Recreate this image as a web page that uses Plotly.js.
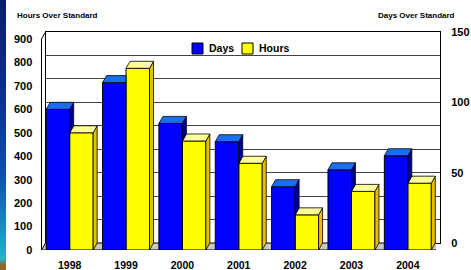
<!DOCTYPE html>
<html><head><meta charset="utf-8">
<script src="https://cdn.plot.ly/plotly-3.0.1.min.js"></script>
<style>
html,body{margin:0;padding:0;background:#fff;overflow:hidden;}
#wrap{position:relative;width:471px;height:270px;}
#chart{width:471px;height:270px;}
#strip{position:absolute;left:0;top:0;width:6px;height:270px;pointer-events:none;
background:linear-gradient(180deg,#0a1e6c 0%,#0c2f90 35%,#0f4fb0 65%,#1c8ec4 85%,#2ab0c8 96%,#8a6a30 98%,#8a6a30 100%);}
</style>
</head><body>
<div id="wrap"><div id="chart"></div><div id="strip"></div></div>
<script>
// ---- data ----
const years = ['1998','1999','2000','2001','2002','2003','2004'];
const daysOver = [100, 119, 90, 77, 45, 57, 67];
const hoursOver = [500, 775, 465, 370, 150, 250, 285];
const hoursTicks = [0,100,200,300,400,500,600,700,800,900];
const daysTicks = [0,50,100,150];
const seriesNames = ['Days','Hours'];
const leftTitle = 'Hours Over Standard';
const rightTitle = 'Days Over Standard';

// ---- geometry / style ----
const W = 471, H = 270;
const L = 41.5, R = 436, B = 250, T = 39;   // front plane (px)
const dxp = 4, dyp = 7;                     // 3-D depth offset (px)
const hoursMax = 900, daysMax = 150;
const n = years.length;
const xs = years.map((_, i) => i);
const DX = dxp / ((R - L) / n);
const DYH = dyp * hoursMax / (B - T);
const DYD = dyp * daysMax / (B - T);
const BW = 5 / 12;
const font = 'Arial, "Liberation Sans", sans-serif';
const cBlue = '#0000ff', cBlueTop = '#1a6ff0', cBlueSide = '#000090';
const cYel = '#ffff00', cYelTop = '#ffff99', cYelSide = '#e8c000';

const traces = [];
// back wall axes (empty traces so the subplot is drawn)
traces.push({type:'scatter', mode:'markers', x:[null], y:[null], xaxis:'x', yaxis:'y', showlegend:false, hoverinfo:'skip'});
traces.push({type:'scatter', mode:'markers', x:[null], y:[null], xaxis:'x', yaxis:'y3', showlegend:false, hoverinfo:'skip'});
// front faces
traces.push({type:'bar', x: xs, y: hoursOver, xaxis:'x2', yaxis:'y2', width: BW, offset: 0,
  marker:{color:cYel, line:{color:'#000', width:1}}, showlegend:false, hoverinfo:'skip', name: seriesNames[1]});
traces.push({type:'bar', x: xs, y: daysOver, xaxis:'x2', yaxis:'y4', width: BW, offset: -BW,
  marker:{color:cBlue, line:{color:'#000', width:1}}, showlegend:false, hoverinfo:'skip', name: seriesNames[0]});

function poly(pts, color, ya) {
  const px = pts.map(p => p[0]); const py = pts.map(p => p[1]);
  px.push(pts[0][0]); py.push(pts[0][1]);
  return {type:'scatter', mode:'lines', x:px, y:py, xaxis:'x2', yaxis:ya, fill:'toself',
    fillcolor:color, line:{color:'#000', width:0.8}, showlegend:false, hoverinfo:'skip'};
}
// hours (yellow) faces
xs.forEach((x, i) => {
  const h = hoursOver[i], x1 = x, x2 = x + BW;
  traces.push(poly([[x2,0],[x2,h],[x2+DX,h+DYH],[x2+DX,DYH]], cYelSide, 'y2'));
  traces.push(poly([[x1,h],[x1+DX,h+DYH],[x2+DX,h+DYH],[x2,h]], cYelTop, 'y2'));
});
// days (blue) faces, hidden parts clipped by the yellow bar next to it
xs.forEach((x, i) => {
  const v = daysOver[i], x0 = x - BW, x1 = x;
  const hb = hoursOver[i] * daysMax / hoursMax;
  if (hb >= v) {
    traces.push(poly([[x0,v],[x0+DX,v+DYD],[x1,v+DYD],[x1,v]], cBlueTop, 'y4'));
  } else {
    traces.push(poly([[x1,hb],[x1,v],[x1+DX,v+DYD],[x1+DX,hb+DYD]], cBlueSide, 'y4'));
    traces.push(poly([[x0,v],[x0+DX,v+DYD],[x1+DX,v+DYD],[x1,v]], cBlueTop, 'y4'));
  }
});

const tickFont = {family: font, size: 11, color: '#000', weight: 'bold'};
const layout = {
  width: W, height: H, margin:{l:0, r:0, t:0, b:0},
  paper_bgcolor:'#fff', plot_bgcolor:'rgba(0,0,0,0)',
  barmode:'overlay', showlegend:false,
  // back wall
  xaxis:{domain:[(L+dxp)/W, (R+dxp)/W], anchor:'y', range:[0,1], showgrid:false, zeroline:false,
    showline:true, mirror:true, linecolor:'#000', linewidth:1, showticklabels:false, ticks:'', fixedrange:true},
  yaxis:{domain:[1-(B-dyp)/H, 1-(T-dyp)/H], anchor:'x', range:[0,hoursMax], tickvals:hoursTicks, showgrid:true,
    gridcolor:'#444', gridwidth:1, zeroline:false, showline:true, mirror:true, linecolor:'#000',
    showticklabels:false, ticks:'', fixedrange:true},
  yaxis3:{overlaying:'y', anchor:'x', side:'right', range:[0,daysMax], tickvals:daysTicks,
    showgrid:false, zeroline:false, showline:false, ticks:'outside', ticklen:8, tickcolor:'rgba(0,0,0,0)',
    tickfont: tickFont, fixedrange:true},
  // front plane
  xaxis2:{domain:[L/W, R/W], anchor:'y2', range:[-0.5, n-0.5], tickvals:xs, ticktext:years,
    showgrid:false, zeroline:false, showline:false, ticks:'outside', ticklen:5, tickcolor:'rgba(0,0,0,0)',
    tickfont:{family: font, size: 10.5, color:'#000', weight:'bold'}, fixedrange:true},
  yaxis2:{domain:[1-B/H, 1-T/H], anchor:'x2', range:[0,hoursMax], tickvals:hoursTicks,
    showgrid:false, zeroline:false, showline:true, linecolor:'#000', linewidth:1,
    ticks:'outside', ticklen:6, tickcolor:'rgba(0,0,0,0)', tickfont: tickFont, fixedrange:true},
  yaxis4:{overlaying:'y2', anchor:'x2', range:[0,daysMax], visible:false, fixedrange:true},
  shapes:[
    {type:'path', xref:'x2', yref:'y2', layer:'below',
     path:`M${-0.5},0 L${n-0.5},0 L${n-0.5+DX},${DYH} L${-0.5+DX},${DYH} Z`,
     fillcolor:'#c8c8c8', line:{color:'#000', width:1}},
    {type:'line', xref:'paper', yref:'paper', x0:L/W, y0:1-T/H, x1:(L+dxp)/W, y1:1-(T-dyp)/H,
     line:{color:'#000', width:1}},
    {type:'rect', xref:'paper', yref:'paper', x0:192/W, x1:203/W, y0:1-54/H, y1:1-43/H,
     fillcolor:cBlue, line:{color:'#000', width:1}},
    {type:'rect', xref:'paper', yref:'paper', x0:242/W, x1:253/W, y0:1-54/H, y1:1-43/H,
     fillcolor:cYel, line:{color:'#000', width:1}}
  ],
  annotations:[
    {text: leftTitle, xref:'paper', yref:'paper', x:15/W, y:1-15/H, xanchor:'left', yanchor:'middle',
     showarrow:false, font:{family:font, size:8, color:'#000', weight:'bold'}},
    {text: rightTitle, xref:'paper', yref:'paper', x:457/W, y:1-15/H, xanchor:'right', yanchor:'middle',
     showarrow:false, font:{family:font, size:8, color:'#000', weight:'bold'}},
    {text: seriesNames[0], xref:'paper', yref:'paper', x:207/W, y:1-48.5/H, xanchor:'left', yanchor:'middle',
     showarrow:false, font:{family:font, size:10.5, color:'#000', weight:'bold'}},
    {text: seriesNames[1], xref:'paper', yref:'paper', x:257/W, y:1-48.5/H, xanchor:'left', yanchor:'middle',
     showarrow:false, font:{family:font, size:10.5, color:'#000', weight:'bold'}}
  ]
};
Plotly.newPlot('chart', traces, layout, {staticPlot:true, displayModeBar:false});
</script>
</body></html>
